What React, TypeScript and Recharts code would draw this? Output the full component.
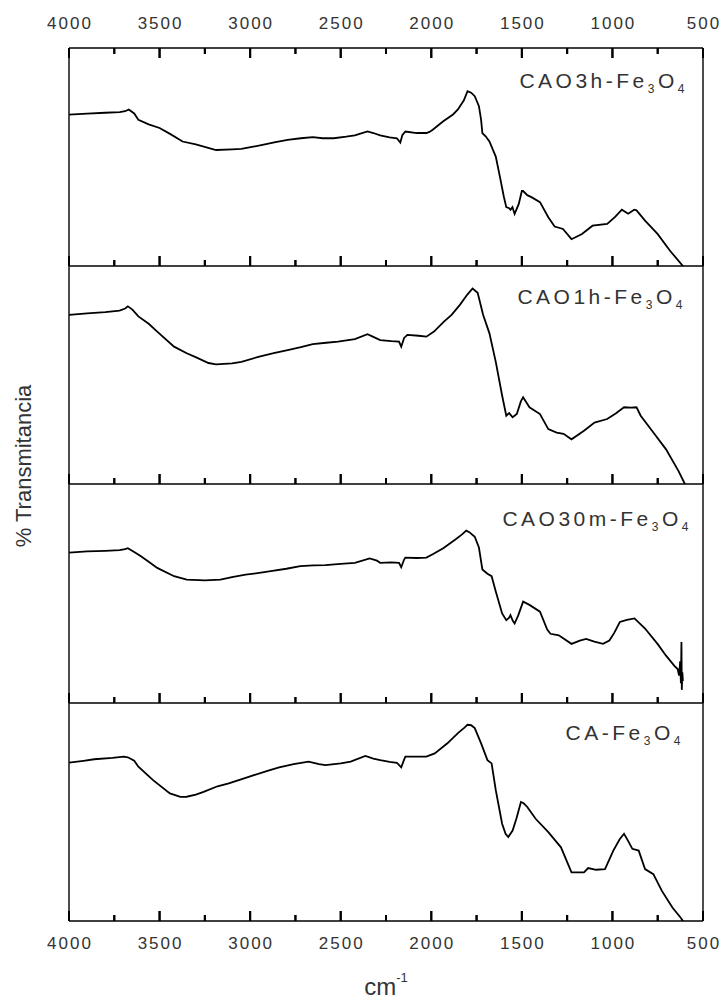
import React from 'react';
import { LineChart, Line, XAxis, YAxis, ReferenceLine } from 'recharts';

const MAJOR_TICKS = [4000, 3500, 3000, 2500, 2000, 1500, 1000, 500];
const MINOR_TICKS = [3750, 3250, 2750, 2250, 1750, 1250, 750];
const ALL_TICKS = [...MAJOR_TICKS, ...MINOR_TICKS].sort((a, b) => b - a);

const PANEL_NAMES = ['CAO3h-Fe', 'CAO1h-Fe', 'CAO30m-Fe', 'CA-Fe'];

const cao3hX = [4000, 3900, 3800, 3720, 3690, 3670, 3640, 3617, 3560, 3500, 3440, 3373, 3300, 3188, 3100, 3048, 2990, 2932, 2860, 2793, 2720, 2654, 2600, 2538, 2470, 2422, 2352, 2320, 2282, 2230, 2190, 2171, 2160, 2143, 2080, 2027, 2010, 1992, 1934, 1880, 1853, 1820, 1800, 1780, 1760, 1737, 1725, 1718, 1700, 1679, 1644, 1621, 1600, 1586, 1570, 1563, 1552, 1540, 1517, 1500, 1493, 1470, 1447, 1400, 1354, 1319, 1273, 1226, 1168, 1110, 1029, 985, 948, 913, 880, 867, 820, 751, 681, 611, 590];
const cao3hY = [69.4, 69.9, 70.3, 70.6, 71.0, 71.8, 70.0, 67.1, 65.0, 63.3, 60.5, 57.1, 55.8, 53.2, 53.5, 53.7, 54.6, 55.6, 56.8, 57.9, 58.6, 59.1, 58.6, 58.6, 59.3, 59.9, 61.7, 61.0, 59.9, 59.0, 58.6, 56.6, 60.0, 61.7, 61.0, 61.0, 61.5, 62.5, 66.4, 69.5, 71.8, 76.0, 80.2, 79.5, 77.9, 73.3, 67.0, 61.0, 59.5, 57.1, 50.2, 40.9, 32.0, 27.0, 26.5, 25.8, 27.0, 23.9, 28.5, 34.4, 34.4, 32.5, 31.6, 29.3, 22.4, 18.1, 17.0, 12.3, 14.7, 18.5, 19.3, 22.5, 25.8, 24.0, 25.8, 25.5, 20.8, 14.7, 6.9, 0, -3];

const cao1hX = [4000, 3900, 3800, 3721, 3690, 3675, 3650, 3617, 3560, 3513, 3420, 3350, 3304, 3230, 3188, 3100, 3048, 2955, 2870, 2793, 2720, 2654, 2580, 2515, 2422, 2352, 2320, 2282, 2220, 2178, 2166, 2150, 2132, 2070, 2027, 1985, 1930, 1888, 1841, 1800, 1772, 1744, 1714, 1679, 1644, 1609, 1586, 1570, 1551, 1528, 1505, 1493, 1458, 1400, 1354, 1308, 1270, 1226, 1157, 1099, 1029, 980, 936, 900, 867, 844, 774, 704, 635, 600, 580];
const cao1hY = [77.6, 78.3, 78.8, 79.5, 80.5, 81.5, 80.0, 76.9, 73.5, 69.9, 63.0, 60.0, 58.3, 55.5, 54.9, 55.3, 56.0, 58.3, 60.0, 61.4, 62.8, 64.2, 64.8, 65.3, 66.5, 68.7, 67.5, 66.0, 65.5, 65.3, 63.0, 67.0, 68.4, 68.0, 67.6, 69.9, 74.5, 77.6, 82.3, 87.0, 89.7, 87.7, 77.6, 69.1, 56.0, 40.6, 31.3, 32.5, 30.6, 32.1, 38.0, 39.8, 35.2, 32.1, 25.2, 23.6, 23.0, 20.5, 24.4, 28.2, 29.8, 32.5, 35.2, 35.0, 35.2, 31.3, 23.6, 15.9, 5.9, 0, -3];

const cao30mX = [4000, 3900, 3800, 3721, 3690, 3675, 3640, 3605, 3560, 3513, 3420, 3350, 3250, 3164, 3100, 3025, 2950, 2886, 2800, 2723, 2650, 2584, 2500, 2422, 2340, 2300, 2282, 2220, 2178, 2166, 2150, 2143, 2080, 2027, 1992, 1934, 1865, 1830, 1807, 1790, 1760, 1737, 1718, 1690, 1667, 1644, 1609, 1586, 1570, 1563, 1550, 1540, 1520, 1493, 1458, 1400, 1360, 1342, 1296, 1226, 1180, 1145, 1100, 1052, 1017, 990, 959, 920, 878, 820, 751, 704, 658, 640, 632, 626, 622, 619, 617, 614, 611];
const cao30mY = [68.7, 69.2, 69.5, 69.8, 70.3, 70.7, 69.0, 67.1, 64.5, 61.7, 57.9, 56.3, 56.0, 56.3, 57.5, 58.6, 59.4, 60.2, 61.3, 62.5, 62.8, 63.0, 63.5, 64.0, 66.0, 65.0, 64.0, 64.2, 64.0, 62.0, 65.5, 66.4, 66.2, 66.4, 67.9, 70.7, 74.8, 77.0, 78.7, 78.0, 75.9, 71.0, 61.0, 59.0, 57.9, 50.9, 40.9, 37.8, 39.0, 40.1, 37.5, 36.3, 40.0, 46.3, 44.8, 41.7, 33.5, 31.6, 30.9, 27.0, 28.5, 29.3, 28.0, 27.0, 28.5, 32.0, 37.0, 38.0, 38.6, 34.0, 27.0, 21.6, 17.0, 15.5, 12.5, 19.0, 9.0, 27.8, 6.0, 14.0, 10.0];

const caX = [4000, 3920, 3861, 3760, 3698, 3675, 3640, 3617, 3536, 3443, 3385, 3350, 3300, 3257, 3180, 3118, 3050, 2979, 2900, 2840, 2760, 2677, 2620, 2584, 2500, 2445, 2364, 2320, 2282, 2230, 2190, 2166, 2150, 2143, 2080, 2027, 1981, 1911, 1853, 1820, 1800, 1780, 1760, 1725, 1690, 1667, 1644, 1609, 1590, 1575, 1551, 1530, 1505, 1490, 1470, 1424, 1354, 1284, 1226, 1190, 1157, 1134, 1090, 1041, 995, 960, 936, 915, 890, 855, 820, 774, 727, 669, 623, 611, 600];
const caY = [72.6, 73.5, 74.2, 74.8, 75.4, 75.1, 73.5, 70.8, 64.6, 58.5, 56.9, 57.0, 58.0, 59.2, 61.8, 63.1, 65.0, 66.9, 69.0, 70.5, 72.0, 73.1, 72.0, 71.5, 72.3, 73.1, 75.7, 74.5, 73.8, 73.0, 72.6, 70.5, 74.0, 75.4, 75.4, 75.4, 76.9, 81.5, 86.2, 88.5, 90.0, 89.8, 88.5, 81.5, 73.8, 72.3, 60.0, 44.6, 40.0, 38.5, 41.5, 47.0, 54.6, 54.0, 52.3, 46.9, 40.8, 33.8, 22.3, 22.3, 22.3, 24.3, 23.5, 23.8, 32.3, 37.5, 40.0, 37.0, 33.1, 32.3, 23.8, 21.5, 13.8, 6.2, 1.5, 0, -3];

const toRows = (xs: number[], ys: number[]) => xs.map((x, i) => ({ x, y: ys[i] }));

const SERIES = [
  toRows(cao3hX, cao3hY),
  toRows(cao1hX, cao1hY),
  toRows(cao30mX, cao30mY),
  toRows(caX, caY),
];

const PANEL_TOPS = [48, 266, 484, 703];
const PANEL_BOTTOMS = [266, 484, 703, 921];
const LABEL_POS = [
  { x: 688, y: 88 },
  { x: 686, y: 304 },
  { x: 692, y: 526 },
  { x: 684, y: 740 },
];

const FONT = '"Liberation Sans", Arial, sans-serif';
const AX = { stroke: '#000', strokeWidth: 1.4 };
const MAJOR_LEN = 10;
const MINOR_LEN = 6;

function TickMark(props: any) {
  const { x, y, payload, side, showLabel } = props;
  const v = Number(payload?.value);
  const px = Number(x);
  const py = Number(y);
  const major = MAJOR_TICKS.indexOf(v) >= 0;
  const len = major ? MAJOR_LEN : MINOR_LEN;
  const y2 = side === 'top' ? py + len : py - len;
  return (
    <g>
      <path d={`M${px},${py}L${px},${y2}`} stroke="#000" strokeWidth={2} fill="none" />
      {showLabel && major && (
        <text
          x={px + 1}
          y={side === 'top' ? py - 19 : py + 28}
          textAnchor="middle"
          fontFamily={FONT}
          fontSize={17}
          letterSpacing={2}
          fill="#333"
        >
          {v}
        </text>
      )}
    </g>
  );
}

function Panel({ idx }: { idx: number }) {
  const top = PANEL_TOPS[idx];
  const bottom = PANEL_BOTTOMS[idx];
  const first = idx === 0;
  const last = idx === 3;
  const axisH = 1;
  const topAxesH = first ? axisH : 0;
  const mt = first ? top - topAxesH : 2;
  const mb = last ? 1002 - bottom - axisH : 2;
  const plotH = bottom - top;
  const height = mt + topAxesH + plotH + axisH + mb;
  const refTick = (v: number, major: boolean, atTop: boolean) => {
    const len = ((major ? MAJOR_LEN : MINOR_LEN) / plotH) * 100;
    const y0 = atTop ? 100 : 0;
    const y1 = atTop ? 100 - len : len;
    return (
      <ReferenceLine
        key={`${atTop ? 't' : 'b'}${v}`}
        xAxisId="b"
        yAxisId="l"
        segment={[{ x: v, y: y0 }, { x: v, y: y1 }]}
        stroke="#000"
        strokeWidth={2}
        ifOverflow="visible"
      />
    );
  };
  return (
    <div style={{ position: 'absolute', left: 0, top: top - mt - topAxesH }}>
      <LineChart width={722} height={height} data={SERIES[idx]} margin={{ top: mt, right: 18, bottom: mb, left: 68 }}>
        <XAxis
          xAxisId="b"
          dataKey="x"
          type="number"
          domain={[500, 4000]}
          reversed
          allowDataOverflow
          interval={0}
          height={axisH}
          orientation="bottom"
          ticks={ALL_TICKS}
          tickSize={0}
          tickMargin={0}
          tickLine={false}
          axisLine={AX}
          tick={(p: any) => <TickMark {...p} side="bottom" showLabel={last} />}
        />
        {first && (
          <XAxis
            xAxisId="t"
            dataKey="x"
            type="number"
            domain={[500, 4000]}
            reversed
            allowDataOverflow
            interval={0}
            height={axisH}
            orientation="top"
            ticks={ALL_TICKS}
            tickSize={0}
            tickMargin={0}
            tickLine={false}
            axisLine={AX}
            tick={(p: any) => <TickMark {...p} side="top" showLabel />}
          />
        )}
        <YAxis yAxisId="l" type="number" domain={[0, 100]} allowDataOverflow width={1} tick={false} tickLine={false} axisLine={AX} />
        <YAxis yAxisId="r" orientation="right" type="number" domain={[0, 100]} allowDataOverflow width={1} tick={false} tickLine={false} axisLine={AX} />
        {MAJOR_TICKS.map((v) => refTick(v, true, false))}
        {MINOR_TICKS.map((v) => refTick(v, false, false))}
        {first && MAJOR_TICKS.map((v) => refTick(v, true, true))}
        {first && MINOR_TICKS.map((v) => refTick(v, false, true))}
        <Line
          xAxisId="b"
          yAxisId="l"
          dataKey="y"
          type="linear"
          stroke="#000"
          strokeWidth={1.8}
          dot={false}
          isAnimationActive={false}
        />
      </LineChart>
    </div>
  );
}

export default function App() {
  return (
    <div style={{ position: 'absolute', left: 0, top: 0, width: 722, height: 1002, background: '#fff' }}>
      {[0, 1, 2, 3].map((i) => (
        <Panel key={i} idx={i} />
      ))}
      <svg width={722} height={1002} style={{ position: 'absolute', left: 0, top: 0, pointerEvents: 'none' }}>
        {LABEL_POS.map((p, i) => (
          <text key={i} x={p.x} y={p.y} textAnchor="end" fontFamily={FONT} fontSize={21} letterSpacing={3.5} fill="#333">
            {PANEL_NAMES[i]}
            <tspan fontSize={12} dy={5}>3</tspan>
            <tspan dy={-5}>O</tspan>
            <tspan fontSize={12} dy={5}>4</tspan>
          </text>
        ))}
        <text
          x={0}
          y={0}
          transform="translate(31,466) rotate(-90)"
          textAnchor="middle"
          fontFamily={FONT}
          fontSize={22}
          fill="#333"
        >
          % Transmitancia
        </text>
        <text x={386} y={995} textAnchor="middle" fontFamily={FONT} fontSize={24} fill="#333">
          cm<tspan fontSize={13} dy={-13}>-1</tspan>
        </text>
      </svg>
    </div>
  );
}
